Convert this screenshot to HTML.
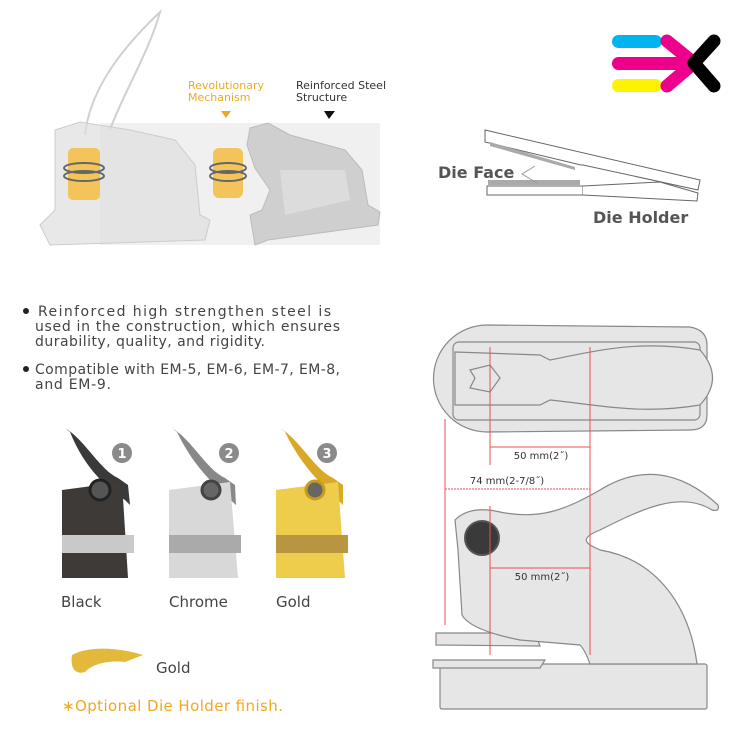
<!DOCTYPE html>
<html><head><meta charset="utf-8"><style>
body{margin:0;background:#fff;width:750px;height:750px;overflow:hidden;font-family:"DejaVu Sans","Liberation Sans",sans-serif}
</style></head><body>
<svg width="750" height="750" viewBox="0 0 750 750" xmlns="http://www.w3.org/2000/svg">
<rect x="100" y="123" width="280" height="122" fill="#f0f0f0"/>
<path d="M250 128 L268 123 L290 135 L345 150 L362 170 L368 205 L380 212 L378 225 L268 240 L255 245 L250 215 L262 210 L270 190 L255 168 L247 145 Z" fill="#cfcfcf" stroke="#bbb"/>
<path d="M280 170 L345 170 L350 200 L285 215 Z" fill="#dcdcdc"/>
<path d="M85 135 C 90 90 120 50 160 12 C 150 50 120 100 110 130" fill="none" stroke="#d0d0d0" stroke-width="2"/>
<path d="M55 130 L80 122 L130 130 L175 140 L195 165 L200 215 L210 220 L205 240 L50 245 L40 225 L55 210 Z" fill="#dedede" fill-opacity=".7" stroke="#ccc"/>
<rect x="68" y="148" width="32" height="52" rx="5" fill="#f3c45a"/>
<ellipse cx="84" cy="168" rx="20" ry="5" fill="none" stroke="#666" stroke-width="2"/>
<ellipse cx="84" cy="176" rx="20" ry="5" fill="none" stroke="#666" stroke-width="2"/>
<rect x="213" y="148" width="30" height="50" rx="6" fill="#f3c45a"/>
<ellipse cx="228" cy="168" rx="18" ry="5" fill="none" stroke="#666" stroke-width="2"/>
<ellipse cx="228" cy="176" rx="18" ry="5" fill="none" stroke="#666" stroke-width="2"/>
<text x="188" y="89" font-size="11" fill="#f0a820">Revolutionary</text>
<text x="188" y="101" font-size="11" fill="#f0a820">Mechanism</text>
<path d="M221 111 L231 111 L226 118 Z" fill="#f0a820"/>
<text x="296" y="89" font-size="11" fill="#333">Reinforced Steel</text>
<text x="296" y="101" font-size="11" fill="#333">Structure</text>
<path d="M324 111 L335 111 L329 119 Z" fill="#111"/>
<rect x="612" y="35" width="50" height="13" rx="6.5" fill="#00b4f0"/>
<rect x="612" y="57" width="78" height="13" rx="6.5" fill="#ec008c"/>
<rect x="612" y="79" width="50" height="13" rx="6.5" fill="#fff200"/>
<path d="M667 41 L694 63 L667 86" fill="none" stroke="#ec008c" stroke-width="13" stroke-linecap="round" stroke-linejoin="round"/>
<path d="M714 41 L694 63 L714 86" fill="none" stroke="#000" stroke-width="13" stroke-linecap="round" stroke-linejoin="round"/>
<path d="M485 130 L700 180 L698 190 L583 165 L581 165 L485 142 Z" fill="#fff" stroke="#666"/>
<path d="M490 142 L575 167 L575 170 L490 146 Z" fill="#aaa"/>
<rect x="487" y="186" width="96" height="9" fill="#fff" stroke="#666"/>
<rect x="488" y="180" width="92" height="5" fill="#aaa"/>
<path d="M583 186 L660 182 L698 193 L697 201 L583 195" fill="#fff" stroke="#666"/>
<path d="M535 166 L522 174 L537 183" fill="none" stroke="#999"/>
<text x="438" y="178" font-size="16" font-weight="bold" fill="#555">Die Face</text>
<text x="593" y="223" font-size="16" font-weight="bold" fill="#555">Die Holder</text>
<g font-size="14" fill="#444">
<circle cx="26" cy="311" r="3" fill="#222"/>
<text x="38" y="316" textLength="293" lengthAdjust="spacing">Reinforced high strengthen steel is</text>
<text x="35" y="331" textLength="305" lengthAdjust="spacing">used in the construction, which ensures</text>
<text x="35" y="346" textLength="230" lengthAdjust="spacing">durability, quality, and rigidity.</text>
<circle cx="26" cy="369" r="3" fill="#222"/>
<text x="35" y="374" textLength="305" lengthAdjust="spacing">Compatible with EM-5, EM-6, EM-7, EM-8,</text>
<text x="35" y="389" textLength="76" lengthAdjust="spacing">and EM-9.</text>
</g>
<g>
<path d="M65 428 C 85 440 100 470 118 478 L128 485 L130 505 L125 500 C 110 490 85 470 70 432 Z" fill="#3a3a3a"/>
<path d="M62 490 L122 482 L128 578 L62 578 Z" fill="#3d3a38"/>
<rect x="62" y="535" width="72" height="18" fill="#c9c9c9"/>
<circle cx="100" cy="490" r="10" fill="#555" stroke="#222" stroke-width="3"/>
<path d="M172 428 C 192 440 207 470 225 478 L235 485 L236 505 C 220 490 195 470 177 432 Z" fill="#888"/>
<path d="M169 490 L230 482 L238 578 L169 578 Z" fill="#d8d8d8"/>
<rect x="169" y="535" width="72" height="18" fill="#aaa"/>
<circle cx="211" cy="490" r="9" fill="#666" stroke="#444" stroke-width="3"/>
<path d="M280 428 C 300 440 315 470 333 478 L343 485 L343 505 C 328 490 303 470 285 432 Z" fill="#d9a826"/>
<path d="M276 490 L338 482 L345 578 L276 578 Z" fill="#eecd4c"/>
<rect x="276" y="535" width="72" height="18" fill="#b89540"/>
<circle cx="315" cy="490" r="9" fill="#666" stroke="#c79a20" stroke-width="3"/>
<circle cx="122" cy="453" r="10" fill="#8a8a8a"/><text x="122" y="458" font-size="13" font-weight="bold" fill="#fff" text-anchor="middle">1</text>
<circle cx="229" cy="453" r="10" fill="#8a8a8a"/><text x="229" y="458" font-size="13" font-weight="bold" fill="#fff" text-anchor="middle">2</text>
<circle cx="327" cy="453" r="10" fill="#8a8a8a"/><text x="327" y="458" font-size="13" font-weight="bold" fill="#fff" text-anchor="middle">3</text>
</g>
<g font-size="15" fill="#444">
<text x="61" y="607">Black</text><text x="169" y="607">Chrome</text><text x="276" y="607">Gold</text>
<text x="156" y="673">Gold</text>
</g>
<path d="M72 655 C 90 645 120 648 143 655 L125 662 C 105 660 92 665 85 672 C 75 675 70 668 72 655 Z" fill="#e2b93a"/>
<text x="62" y="711" font-size="15" fill="#f0a820" textLength="221" lengthAdjust="spacing">∗Optional Die Holder finish.</text>
<g fill="#e6e6e6" stroke="#888" stroke-width="1.2">
<path d="M487 325 L690 327 Q707 330 707 345 L707 415 Q707 430 690 430 L487 432 A53 53 0 0 1 487 325 Z"/>
<rect x="453" y="342" width="247" height="78" rx="6"/>
<path d="M455 352 L540 355 L550 360 C 600 350 640 340 700 350 Q725 378 700 405 C 640 415 600 405 550 400 L540 405 L455 405 Z"/>
<path d="M470 370 L490 365 L500 378 L490 392 L470 388 L475 378 Z"/>
</g>
<g fill="#e6e6e6" stroke="#888" stroke-width="1.2">
<rect x="440" y="664" width="267" height="45" rx="2"/>
<path d="M436 633 L535 633 L540 646 L436 645 Z"/>
<path d="M433 660 L545 660 L540 668 L433 668 Z"/>
<path d="M455 520 Q470 505 500 512 C 540 520 565 510 600 490 C 640 465 680 470 718 505 Q720 512 712 510 C 680 490 640 510 600 530 C 575 540 590 545 600 550 C 660 560 690 610 697 664 L590 664 Q585 650 580 645 L520 640 Q470 630 462 615 L458 550 Z"/>
</g>
<circle cx="482" cy="538" r="17" fill="#3a3a3a" stroke="#555" stroke-width="2"/>
<g stroke="#e85050" stroke-width="1">
<line x1="490" y1="347" x2="490" y2="465"/>
<line x1="490" y1="506" x2="490" y2="655"/>
<line x1="590" y1="347" x2="590" y2="655"/>
<line x1="445" y1="419" x2="445" y2="625"/>
<line x1="490" y1="447" x2="590" y2="447"/>
<line x1="445" y1="489" x2="590" y2="489" stroke-dasharray="2 1"/>
<line x1="490" y1="568" x2="590" y2="568"/>
</g>
<g font-size="10" fill="#333" text-anchor="middle">
<text x="541" y="459">50 mm(2˝)</text>
<text x="507" y="484">74 mm(2-7/8˝)</text>
<text x="542" y="580">50 mm(2˝)</text>
</g>
</svg>
</body></html>
